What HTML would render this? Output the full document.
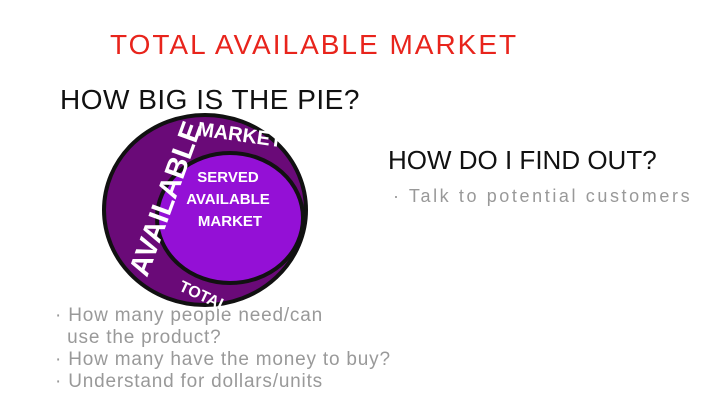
<!DOCTYPE html>
<html><head><style>
body{margin:0;width:705px;height:416px;background:#fff;overflow:hidden;position:relative;font-family:"Liberation Sans",sans-serif}
.t{position:absolute;white-space:nowrap}
</style></head><body>
<div class="t" style="left:110px;top:29px;font-size:28px;color:#e8241c;letter-spacing:2px">TOTAL AVAILABLE MARKET</div>
<div class="t" style="left:60px;top:84px;font-size:28px;color:#111;letter-spacing:0.5px">HOW BIG IS THE PIE?</div>
<div class="t" style="left:388px;top:145px;font-size:26px;color:#111">HOW DO I FIND OUT?</div>
<div class="t" style="left:393px;top:186px;font-size:18px;color:#999;letter-spacing:2.6px">· Talk to potential customers</div>
<div class="t" style="left:55px;top:305px;font-size:19px;color:#999;line-height:22px;letter-spacing:0.8px">· How many people need/can<br>&nbsp;&nbsp;use the product?<br>· How many have the money to buy?<br>· Understand for dollars/units</div>
<svg width="705" height="416" style="position:absolute;left:0;top:0">
<ellipse cx="205" cy="210" rx="101" ry="95" fill="#6a0a78" stroke="#111" stroke-width="4"/>
<ellipse cx="230" cy="218" rx="73" ry="65" fill="#9410d6" stroke="#111" stroke-width="4"/>
<text fill="#fff" font-size="15" font-weight="bold" text-anchor="middle" font-family="Liberation Sans">
<tspan x="228" y="182">SERVED</tspan><tspan x="228" y="204">AVAILABLE</tspan><tspan x="230" y="226">MARKET</tspan></text>
<text x="197" y="140" fill="#fff" font-size="20" font-weight="bold" transform="rotate(8 230 135)" font-family="Liberation Sans">MARKET</text>
<text fill="#fff" font-size="29" font-weight="bold" transform="translate(147 278) rotate(-70)" font-family="Liberation Sans">AVAILABLE</text>
<text fill="#fff" font-size="16" font-weight="bold" transform="translate(178 290) rotate(25)" font-family="Liberation Sans">TOTAL</text>
</svg>
</body></html>
